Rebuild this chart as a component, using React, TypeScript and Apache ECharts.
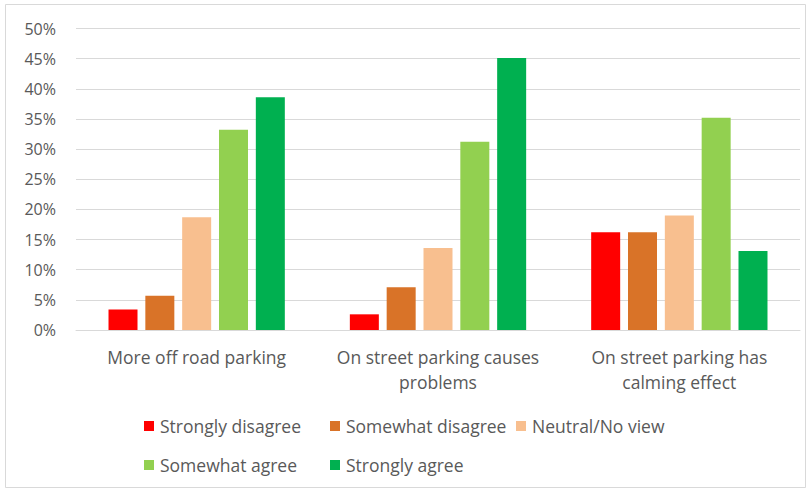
import React, { useEffect, useRef } from "react";
import * as echarts from "echarts";

const categories = [
  "More off road parking",
  "On street parking causes\nproblems",
  "On street parking has\ncalming effect",
];
const seriesNames = [
  "Strongly disagree",
  "Somewhat disagree",
  "Neutral/No view",
  "Somewhat agree",
  "Strongly agree",
];
const stronglyDisagree = [3.4, 2.6, 16.2];
const somewhatDisagree = [5.7, 7.1, 16.2];
const neutral = [18.7, 13.6, 19.0];
const somewhatAgree = [33.2, 31.2, 35.2];
const stronglyAgree = [38.6, 45.1, 13.1];
const yTicks = [0, 5, 10, 15, 20, 25, 30, 35, 40, 45, 50];

const colors = ["#FF0000", "#D97328", "#F8BF8F", "#92D050", "#00B050"];
const values = [stronglyDisagree, somewhatDisagree, neutral, somewhatAgree, stronglyAgree];

const legendPos = [
  { left: 144, top: 417 },
  { left: 330, top: 417 },
  { left: 516, top: 417 },
  { left: 144, top: 456 },
  { left: 330, top: 456 },
];

export default function App() {
  const ref = useRef<HTMLDivElement>(null);
  useEffect(() => {
    document.body.style.margin = "0";
    const chart = echarts.init(ref.current!, null, { renderer: "svg" });
    const font = "'Open Sans', sans-serif";
    chart.setOption({
      animation: false,
      backgroundColor: "#ffffff",
      textStyle: { fontFamily: font },
      graphic: [
        {
          type: "rect",
          shape: { x: 5.5, y: 4.5, width: 800, height: 483 },
          style: { fill: "none", stroke: "#d9d9d9", lineWidth: 1 },
          silent: true,
        },
      ],
      grid: { left: 76, right: 12, top: 28.5, bottom: 161, containLabel: false },
      legend: seriesNames.map((n, i) => ({
        data: [n],
        left: legendPos[i].left,
        top: legendPos[i].top,
        icon: "rect",
        itemWidth: 10,
        itemHeight: 10,
        padding: 0,
        textStyle: { color: "#595959", fontSize: 17.5, fontFamily: font, padding: [0, 0, 0, 1] },
        selectedMode: false,
      })),
      xAxis: {
        type: "category",
        data: categories,
        axisLine: { lineStyle: { color: "#d9d9d9", width: 1 } },
        axisTick: { show: false },
        axisLabel: {
          color: "#595959",
          fontSize: 17.5,
          fontFamily: font,
          lineHeight: 25,
          margin: 14,
          interval: 0,
        },
      },
      yAxis: {
        type: "value",
        min: yTicks[0],
        max: yTicks[yTicks.length - 1],
        interval: 5,
        axisLine: { show: false },
        axisTick: { show: false },
        splitLine: { lineStyle: { color: "#d9d9d9", width: 1 } },
        axisLabel: {
          color: "#595959",
          fontSize: 16,
          fontFamily: font,
          margin: 20,
          formatter: (v: number) => `${v}%`,
        },
      },
      series: seriesNames.map((n, i) => ({
        name: n,
        type: "bar",
        data: values[i],
        barWidth: 29,
        barGap: "27%",
        itemStyle: { color: colors[i] },
      })),
    });
    return () => chart.dispose();
  }, []);
  return <div ref={ref} style={{ width: 812, height: 491 }} />;
}
